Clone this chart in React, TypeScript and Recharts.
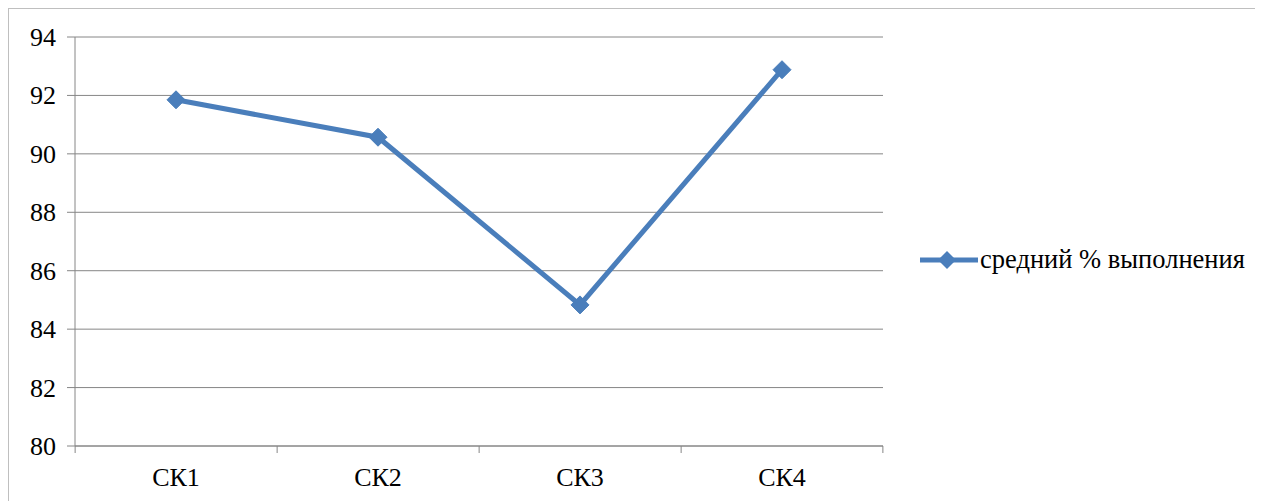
import React from "react";
import { LineChart, Line, XAxis, YAxis, CartesianGrid, Legend } from "recharts";

const categories: string[] = ["СК1", "СК2", "СК3", "СК4"];
const avgCompletion: number[] = [91.85, 90.57, 84.83, 92.88];
const yTicks: number[] = [80, 82, 84, 86, 88, 90, 92, 94];
const seriesName = "средний % выполнения";

const data = categories.map((name, i) => ({ name, value: avgCompletion[i] }));

const W = 1255;
const H = 493;
const PLOT_LEFT = 67;
const PLOT_RIGHT = 874;
const PLOT_BOTTOM = 437;
const BAND = (PLOT_RIGHT - PLOT_LEFT) / categories.length;
const BLUE = "#4a7ebb";
const GRID = "#868686";
const FONT = "Liberation Serif";

const Diamond = (props: any) => {
  const { cx, cy } = props;
  if (cx == null || cy == null) return null;
  const r = 9;
  return (
    <polygon
      points={`${cx},${cy - r} ${cx + r},${cy} ${cx},${cy + r} ${cx - r},${cy}`}
      fill={BLUE}
      stroke={BLUE}
      strokeWidth={1}
    />
  );
};

const XTick = (props: any) => {
  const { x, payload, index } = props;
  return (
    <g>
      <line x1={x - BAND / 2} x2={x - BAND / 2} y1={PLOT_BOTTOM} y2={PLOT_BOTTOM + 7} stroke={GRID} />
      {index === categories.length - 1 && (
        <line x1={x + BAND / 2} x2={x + BAND / 2} y1={PLOT_BOTTOM} y2={PLOT_BOTTOM + 7} stroke={GRID} />
      )}
      <text x={x} y={PLOT_BOTTOM + 40} textAnchor="middle" fill="#000" fontFamily={FONT} fontSize={26}>
        {payload.value}
      </text>
    </g>
  );
};

const YTick = (props: any) => {
  const { y, payload } = props;
  return (
    <text x={PLOT_LEFT - 20} y={y + 9} textAnchor="end" fill="#000" fontFamily={FONT} fontSize={26}>
      {payload.value}
    </text>
  );
};

const LegendContent = (props: any) => {
  const item = props.payload?.[0];
  if (!item) return null;
  return (
    <div style={{ display: "flex", alignItems: "center", fontFamily: FONT, fontSize: 26.5, color: "#000" }}>
      <svg width={58} height={20}>
        <line x1={0} x2={58} y1={10} y2={10} stroke={BLUE} strokeWidth={5} />
        <polygon points="27,1 36,10 27,19 18,10" fill={BLUE} />
      </svg>
      <span style={{ marginLeft: 2, whiteSpace: "nowrap" }}>{item.value}</span>
    </div>
  );
};

const App: React.FC = () => (
  <div style={{ width: W, height: H, borderTop: "1px solid #bfbfbf", borderLeft: "1px solid #bfbfbf", background: "#fff" }}>
    <LineChart width={W - 1} height={H - 1} data={data} margin={{ top: 28, right: W - 1 - PLOT_RIGHT, bottom: 0, left: 0 }}>
      <CartesianGrid horizontal vertical={false} stroke={GRID} />
      <XAxis
        dataKey="name"
        scale="band"
        height={H - 1 - PLOT_BOTTOM}
        axisLine={{ stroke: GRID }}
        tickLine={false}
        tick={<XTick />}
        interval={0}
      />
      <YAxis
        width={PLOT_LEFT - 1}
        domain={[80, 94]}
        ticks={yTicks}
        axisLine={{ stroke: GRID }}
        tickLine={{ stroke: GRID }}
        tickSize={8}
        tick={<YTick />}
        interval={0}
      />
      <Legend
        layout="vertical"
        align="center"
        verticalAlign="middle"
        wrapperStyle={{ left: 911, top: 235 }}
        content={<LegendContent />}
      />
      <Line
        type="linear"
        dataKey="value"
        name={seriesName}
        stroke={BLUE}
        strokeWidth={5}
        dot={<Diamond />}
        activeDot={false}
        isAnimationActive={false}
      />
    </LineChart>
  </div>
);

export default App;
